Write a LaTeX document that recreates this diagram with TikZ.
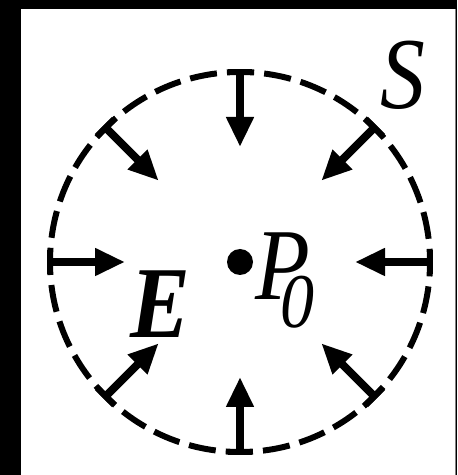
\documentclass[tikz,border=0pt]{standalone}
\usepackage{graphicx}
\usepackage{fontspec}
\setmainfont{Liberation Serif}
\usetikzlibrary{arrows.meta}
\newcommand\bigsize{\fontsize{58pt}{60pt}\selectfont}
\newcommand\subsize{\fontsize{44pt}{46pt}\selectfont}
\newcommand\narrow[1]{\scalebox{0.88}[1]{#1}}
\begin{document}
\begin{tikzpicture}[x=0.02cm,y=0.02cm,
  fieldarrow/.style={line width=4.5pt,-{Triangle[length=0.6cm,width=0.52cm]}},
  surfacetick/.style={line width=3.6pt},
  bigtext/.style={inner sep=0pt,anchor=base west}]
  \def\Rs{190}
  \def\Rt{115}
  \useasboundingbox (-240,-213) rectangle (217,262);
  % frame
  \fill[black] (-240,-213) rectangle (-219,262);
  \fill[black] (-240,253) rectangle (217,262);
  \fill[gray] (215,-213) rectangle (216,253);
  \fill[black] (216,-213) rectangle (217,262);
  % surface S
  \draw[line width=3.4pt,dash pattern=on 15.5pt off 5.73pt,dash phase=8pt] (0,0) circle[radius=\Rs];
  % field arrows
  \foreach \a [count=\i] in {0,45,...,315}{
    \coordinate (s\i) at (\a:\Rs);
    \coordinate (t\i) at (\a:\Rt);
    \draw[surfacetick,rotate=\a] (\Rs,-12) -- (\Rs,12);
    \draw[fieldarrow] (s\i) -- (t\i);
  }
  % point and labels
  \node[circle,fill=black,inner sep=0pt,minimum size=0.52cm] (dot) at (0,0) {};
  \node[bigtext] (S) at (140,153) {\narrow{\bigsize\itshape S}};
  \node[bigtext] (P) at (15,-38) {\narrow{\bigsize\itshape P}};
  \node[bigtext] (Psub) at (40,-66) {\narrow{\subsize\itshape 0}};
  \node[bigtext] (E) at (-110,-76) {\narrow{\bigsize\bfseries\itshape E}};
\end{tikzpicture}
\end{document}
